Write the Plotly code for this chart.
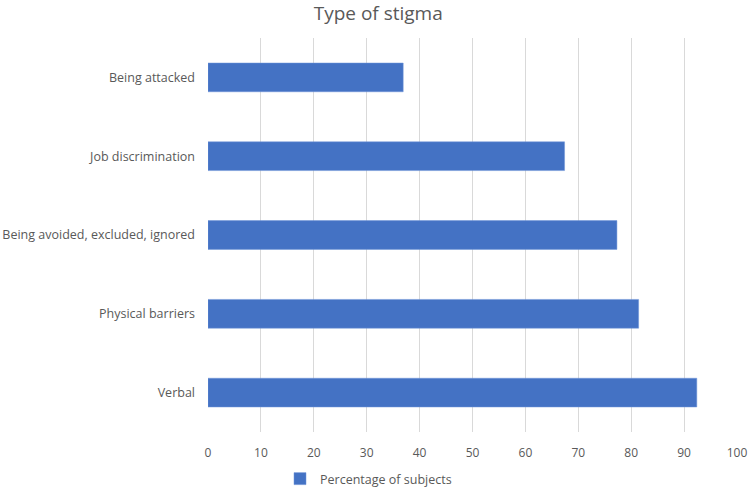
import plotly.graph_objects as go

categories = ["Verbal", "Physical barriers", "Being avoided, excluded, ignored",
              "Job discrimination", "Being attacked"]
values = [92.4, 81.4, 77.3, 67.4, 36.9]
series_name = "Percentage of subjects"
x_ticks = list(range(0, 101, 10))

fig = go.Figure()
fig.add_trace(go.Bar(
    y=categories, x=values, orientation="h", name=series_name,
    marker=dict(color="#4472C4", line=dict(color="#6f95d8", width=0.5)),
    showlegend=True,
))

fig.update_layout(
    width=749, height=490,
    margin=dict(l=208, r=12, t=38, b=58, autoexpand=False),
    paper_bgcolor="white", plot_bgcolor="white",
    font=dict(family="Open Sans, Liberation Sans, sans-serif", size=12, color="#595959"),
    title=dict(text="Type of stigma", x=0.505, xanchor="center", yref="container",
               y=1 - 13 / 490, yanchor="middle",
               font=dict(size=19, color="#595959")),
    bargap=0.635,
    xaxis=dict(range=[0, 100], tickvals=x_ticks, showgrid=True, gridcolor="#d9d9d9",
               gridwidth=1, zeroline=False, showline=False, automargin=False,
               tickfont=dict(size=12, color="#595959"), ticks="", ticklabelstandoff=12),
    yaxis=dict(showgrid=False, zeroline=False, showline=False, ticks="", automargin=False,
               tickfont=dict(size=12.5, color="#595959"), ticklabelstandoff=12),
    legend=dict(orientation="h", xref="container", x=0.492, xanchor="center",
                yref="container", y=11 / 490, yanchor="middle",
                font=dict(size=12.5, color="#595959"), itemwidth=30),
)

fig.write_html("out.html", config={"displayModeBar": False},
               post_script="document.body.style.margin='0';document.body.style.overflow='hidden';")
